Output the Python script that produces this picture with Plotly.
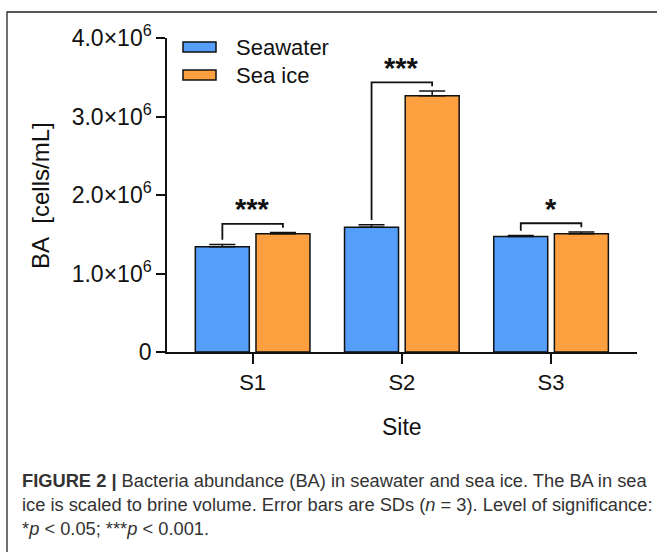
import plotly.graph_objects as go

sites = ["S1", "S2", "S3"]
seawater = [1.34e6, 1.59e6, 1.47e6]
seawater_sd = [0.03e6, 0.03e6, 0.015e6]
seaice = [1.505e6, 3.265e6, 1.505e6]
seaice_sd = [0.018e6, 0.06e6, 0.025e6]
signif = ["***", "***", "*"]
ytick_vals = [0, 1e6, 2e6, 3e6, 4e6]
ytick_text = ["0", "1.0×10<sup>6</sup>", "2.0×10<sup>6</sup>", "3.0×10<sup>6</sup>", "4.0×10<sup>6</sup>"]

W, H = 657, 552
L, R, T, B = 167, 20, 38, 200
pw, ph = W - L - R, H - T - B

def px(xp):
    return (xp - L) / pw

def py(yp):
    return (H - B - yp) / ph

BLUE = "#559FFA"
ORANGE = "#FFA040"
FONT = "Liberation Sans, Arial, sans-serif"

xs = list(range(len(sites)))
fig = go.Figure()
fig.add_trace(go.Bar(x=xs, y=seawater, name="Seawater", marker=dict(color=BLUE, line=dict(color="#111", width=1.5)),
                     error_y=dict(type="data", array=seawater_sd, symmetric=False, arrayminus=[0]*3,
                                  color="#111", thickness=1.5, width=13), showlegend=False))
fig.add_trace(go.Bar(x=xs, y=seaice, name="Sea ice", marker=dict(color=ORANGE, line=dict(color="#111", width=1.5)),
                     error_y=dict(type="data", array=seaice_sd, symmetric=False, arrayminus=[0]*3,
                                  color="#111", thickness=1.5, width=13), showlegend=False))

shapes = []
annotations = []
off = 0.203
for i in xs:
    a = seawater[i] + seawater_sd[i]
    b = seaice[i] + seaice_sd[i]
    top = max(a, b) + 0.11e6
    la = a + 0.06e6
    lb = b + 0.06e6
    path = f"M {i-off},{la} L {i-off},{top} L {i+off},{top} L {i+off},{lb}"
    shapes.append(dict(type="path", xref="x", yref="y", path=path, line=dict(color="#111", width=1.8)))
    annotations.append(dict(x=i, y=top + 0.185e6, xref="x", yref="y", text=f"<b>{signif[i]}</b>",
                            showarrow=False, font=dict(size=29, color="#111", family=FONT), yanchor="middle"))

# legend
for k, (nm, col) in enumerate([("Seawater", BLUE), ("Sea ice", ORANGE)]):
    yc = 47 + 28 * k
    shapes.append(dict(type="rect", xref="paper", yref="paper", x0=px(183), x1=px(216), y0=py(yc - 5), y1=py(yc + 5),
                       fillcolor=col, line=dict(color="#111", width=1.5)))
    annotations.append(dict(x=px(234), y=py(yc), xref="paper", yref="paper", text=nm, showarrow=False,
                            xanchor="left", yanchor="middle", font=dict(size=22, color="#111", family=FONT)))

# frame
shapes.append(dict(type="rect", xref="paper", yref="paper", x0=px(7), x1=px(700), y0=py(600), y1=py(12),
                   line=dict(color="#222", width=1.3), fillcolor="rgba(0,0,0,0)", layer="below"))

annotations.append(dict(x=px(40), y=py(196), xref="paper", yref="paper", text="BA&nbsp; [cells/mL]", textangle=-90,
                        xanchor="center", yanchor="middle",
                        showarrow=False, font=dict(size=24, color="#111", family=FONT)))
annotations.append(dict(x=px(402), y=py(427), xref="paper", yref="paper", text="Site",
                        xanchor="center", yanchor="middle",
                        showarrow=False, font=dict(size=23, color="#111", family=FONT)))
caption = ("<b>FIGURE 2 |</b> Bacteria abundance (BA) in seawater and sea ice. The BA in sea<br>"
           "ice is scaled to brine volume. Error bars are SDs (<i>n</i> = 3). Level of significance:<br>"
           "*<i>p</i> &lt; 0.05; ***<i>p</i> &lt; 0.001.")
annotations.append(dict(x=px(20), y=py(468), xref="paper", yref="paper", text=caption, align="left",
                        xanchor="left", yanchor="top", showarrow=False,
                        font=dict(size=18.3, color="#333", family=FONT)))

fig.update_layout(
    width=W, height=H, margin=dict(l=L, r=R, t=T, b=B),
    paper_bgcolor="white", plot_bgcolor="white",
    barmode="group", bargap=0.187, bargroupgap=0.11,
    shapes=shapes, annotations=annotations,
    font=dict(family=FONT, color="#111"),
    xaxis=dict(range=[-0.574, 2.576], tickvals=xs, ticktext=sites, showline=True, linecolor="#111", linewidth=1.5,
               ticks="outside", ticklen=10, tickwidth=1.5, tickcolor="#111", showgrid=False, zeroline=False,
               tickfont=dict(size=22, family=FONT, color="#111")),
    yaxis=dict(range=[0, 4e6], tickvals=ytick_vals, ticktext=ytick_text, showline=True, linecolor="#111", linewidth=1.5,
               ticks="outside", ticklen=9, tickwidth=1.5, tickcolor="#111", showgrid=False, zeroline=False,
               tickfont=dict(size=23, family=FONT, color="#111")),
)
fig.write_html("out.html")
